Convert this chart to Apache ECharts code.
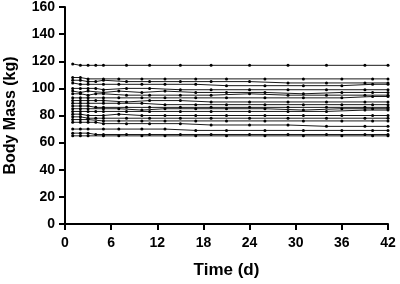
<!DOCTYPE html>
<html>
<head>
<meta charset="utf-8">
<script src="https://cdn.jsdelivr.net/npm/echarts@6/dist/echarts.min.js"></script>
<style>
  html, body { margin: 0; padding: 0; background: #fff; }
  #chart { width: 400px; height: 284px; }
</style>
</head>
<body>
<div id="chart"></div>
<script>
// measurement days (d), two schedules
var daysA = [1, 2, 3, 4, 5, 8, 11, 15, 19, 24, 29, 34, 39, 42];
var daysB = [1, 2, 3, 5, 7, 10, 13, 17, 21, 26, 31, 36, 40, 42];

// body mass (kg) per subject
var s1  = [118, 117, 117, 117, 117, 117, 117, 117, 117, 117, 117, 117, 117, 117];
var s2  = [108, 108, 107, 107, 107, 107, 107, 107, 107, 107, 107, 107, 107, 107];
var s3  = [106, 106, 105, 105, 106, 105, 105, 105, 105, 105, 104, 104, 104, 104];
var s4  = [104, 103, 103, 103, 103, 103, 103, 103, 102, 102, 102, 102, 103, 103];
var s5  = [100, 100, 100, 100, 99, 100, 100, 99, 99, 99, 99, 99, 99, 99];
var s6  = [98, 97, 98, 97, 98, 97, 98, 97, 97, 97, 96, 97, 97, 97];
var s7  = [96, 96, 95, 96, 96, 95, 95, 95, 95, 96, 95, 95, 95, 95];
var s8  = [93, 93, 93, 93, 93, 93, 93, 93, 93, 93, 93, 93, 94, 94];
var s9  = [91, 91, 91, 91, 91, 90, 91, 91, 90, 90, 90, 90, 90, 90];
var s10 = [89, 89, 89, 89, 89, 89, 88, 88, 88, 88, 88, 88, 88, 88];
var s11 = [87, 87, 87, 86, 86, 86, 86, 86, 86, 86, 86, 86, 86, 86];
var s12 = [85, 85, 85, 85, 85, 84, 85, 85, 85, 85, 84, 85, 85, 85];
var s13 = [83, 83, 83, 83, 83, 83, 83, 83, 83, 83, 83, 83, 84, 84];
var s14 = [81, 81, 80, 80, 81, 80, 80, 80, 80, 80, 80, 80, 80, 80];
var s15 = [79, 79, 78, 78, 78, 78, 78, 78, 78, 78, 78, 78, 78, 78];
var s16 = [77, 77, 77, 76, 76, 76, 76, 76, 76, 76, 76, 76, 76, 76];
var s17 = [75, 75, 75, 75, 74, 74, 74, 74, 73, 73, 73, 72, 72, 72];
var s18 = [70, 70, 70, 70, 70, 70, 70, 69, 69, 69, 69, 69, 69, 69];
var s19 = [67, 67, 67, 66, 66, 66, 66, 66, 66, 66, 66, 66, 66, 66];
var s20 = [65, 65, 65, 65, 65, 65, 65, 65, 65, 65, 65, 65, 65, 65];

var subjects = [s1, s2, s3, s4, s5, s6, s7, s8, s9, s10, s11, s12, s13, s14, s15, s16, s17, s18, s19, s20];

var xTicks = [0, 6, 12, 18, 24, 30, 36, 42];
var yTicks = [0, 20, 40, 60, 80, 100, 120, 140, 160];

var chart = echarts.init(document.getElementById('chart'), null, { renderer: 'canvas' });

var font = 'Liberation Sans, Arial, Helvetica, sans-serif';

var series = subjects.map(function (vals, k) {
  var days = k % 2 === 0 ? daysA : daysB;
  return {
    type: 'line',
    data: days.map(function (d, i) { return [d, vals[i]]; }),
    symbol: 'circle',
    symbolSize: 3,
    showSymbol: true,
    lineStyle: { color: '#1a1a1a', width: 1 },
    itemStyle: { color: '#000' },
    animation: false
  };
});

chart.setOption({
  backgroundColor: '#fff',
  grid: { left: 65, right: 12, top: 7, bottom: 60, containLabel: false, outerBoundsMode: 'none' },
  xAxis: {
    type: 'value',
    min: xTicks[0],
    max: xTicks[xTicks.length - 1],
    interval: 6,
    name: 'Time (d)',
    nameLocation: 'middle',
    nameGap: 38,
    nameTextStyle: { fontFamily: font, fontWeight: 'bold', fontSize: 17, color: '#000' },
    axisLine: { lineStyle: { color: '#000', width: 2 } },
    axisTick: { show: true, length: 6, lineStyle: { color: '#000', width: 2 } },
    axisLabel: { fontFamily: font, fontWeight: 'bold', fontSize: 14, color: '#000', margin: 12 },
    splitLine: { show: false }
  },
  yAxis: {
    type: 'value',
    min: yTicks[0],
    max: yTicks[yTicks.length - 1],
    interval: 20,
    name: 'Body Mass (kg)',
    nameLocation: 'middle',
    nameGap: 46,
    nameRotate: 90,
    nameTextStyle: { fontFamily: font, fontWeight: 'bold', fontSize: 16, color: '#000' },
    axisLine: { show: true, lineStyle: { color: '#000', width: 2 } },
    axisTick: { show: true, length: 6, lineStyle: { color: '#000', width: 2 } },
    axisLabel: { fontFamily: font, fontWeight: 'bold', fontSize: 14, color: '#000', margin: 10 },
    splitLine: { show: false }
  },
  series: series
});
</script>
</body>
</html>
